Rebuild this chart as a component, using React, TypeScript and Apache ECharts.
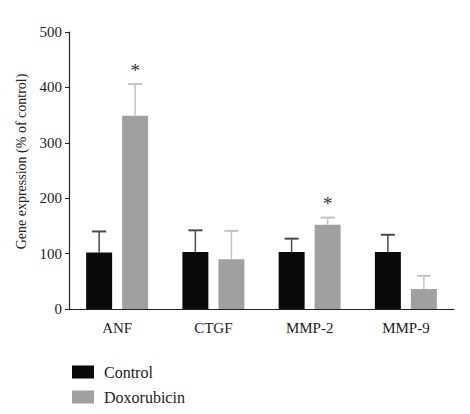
import React, { useEffect, useRef } from "react";
import * as echarts from "echarts";

const categories = ["ANF", "CTGF", "MMP-2", "MMP-9"];
const controlValues = [102, 103, 103, 103];
const controlErrors = [38, 39, 24, 31];
const doxValues = [349, 90, 152, 36];
const doxErrors = [57, 51, 13, 24];
const doxSignificant = [true, false, true, false];
const yTicks = { min: 0, max: 500, interval: 100 };

const FONT = "'Liberation Serif', 'DejaVu Serif', serif";
const BAR_W = 26;
const BAR_GAP = 10;

function errorSeries(name: string, values: number[], errors: number[], side: number, color: string, stars?: boolean[]) {
  const offset = side * (BAR_W + BAR_GAP) / 2;
  return {
    type: "custom",
    name: name + "-err",
    silent: true,
    z: 3,
    data: values.map((v, i) => [i, v, v + errors[i], stars ? (stars[i] ? 1 : 0) : 0]),
    renderItem: (params: any, api: any) => {
      const i = api.value(0);
      const base = api.coord([i, api.value(1)]);
      const top = api.coord([i, api.value(2)]);
      const x = base[0] + offset;
      const cap = 7;
      const children: any[] = [
        { type: "line", shape: { x1: x, y1: base[1], x2: x, y2: top[1] }, style: { stroke: color, lineWidth: 1.5 } },
        { type: "line", shape: { x1: x - cap, y1: top[1], x2: x + cap, y2: top[1] }, style: { stroke: color, lineWidth: 2 } },
      ];
      if (api.value(3) === 1) {
        children.push({
          type: "text",
          x: x,
          y: top[1] - 14,
          style: { text: "*", fontFamily: FONT, fontSize: 19, fill: "#333", align: "center", verticalAlign: "middle" },
        });
      }
      return { type: "group", children };
    },
  };
}

export default function App() {
  const ref = useRef<HTMLDivElement>(null);
  useEffect(() => {
    document.body.style.margin = "0";
    const chart = echarts.init(ref.current!, null, { renderer: "svg" });
    chart.setOption({
      animation: false,
      backgroundColor: "#ffffff",
      textStyle: { fontFamily: FONT },
      grid: { left: 69, right: 16, top: 32, bottom: 105, outerBoundsMode: "none", containLabel: false },
      legend: {
        orient: "vertical",
        left: 72,
        top: 364,
        itemWidth: 22,
        itemHeight: 13,
        itemGap: 9,
        padding: 0,
        icon: "rect",
        data: ["Control", "Doxorubicin"],
        textStyle: { fontFamily: FONT, fontSize: 16, color: "#222", padding: [0, 0, 0, 5] },
      },
      xAxis: {
        type: "category",
        data: categories,
        axisLine: { lineStyle: { color: "#222", width: 1.2 } },
        axisTick: { alignWithLabel: true, length: 4, lineStyle: { color: "#222" } },
        axisLabel: { fontFamily: FONT, fontSize: 15, color: "#222", margin: 11 },
      },
      yAxis: {
        type: "value",
        min: yTicks.min,
        max: yTicks.max,
        interval: yTicks.interval,
        name: "Gene expression (% of control)",
        nameLocation: "middle",
        nameGap: 37,
        nameTextStyle: { fontFamily: FONT, fontSize: 14, color: "#222", padding: [0, 0, 0, 18] },
        axisLine: { show: true, lineStyle: { color: "#222", width: 1.2 } },
        axisTick: { show: true, length: 4, lineStyle: { color: "#222" } },
        axisLabel: { fontFamily: FONT, fontSize: 15, color: "#222", margin: 7 },
        splitLine: { show: false },
      },
      series: [
        {
          type: "bar",
          name: "Control",
          data: controlValues,
          barWidth: BAR_W,
          barGap: (BAR_GAP / BAR_W * 100) + "%",
          itemStyle: { color: "#0a0a0a" },
        },
        {
          type: "bar",
          name: "Doxorubicin",
          data: doxValues,
          barWidth: BAR_W,
          itemStyle: { color: "#a0a0a0" },
        },
        errorSeries("Control", controlValues, controlErrors, -1, "#4a4a4a"),
        errorSeries("Doxorubicin", doxValues, doxErrors, 1, "#c4c4c4", doxSignificant),
      ],
    });
    return () => chart.dispose();
  }, []);
  return <div ref={ref} style={{ width: 470, height: 414 }} />;
}
